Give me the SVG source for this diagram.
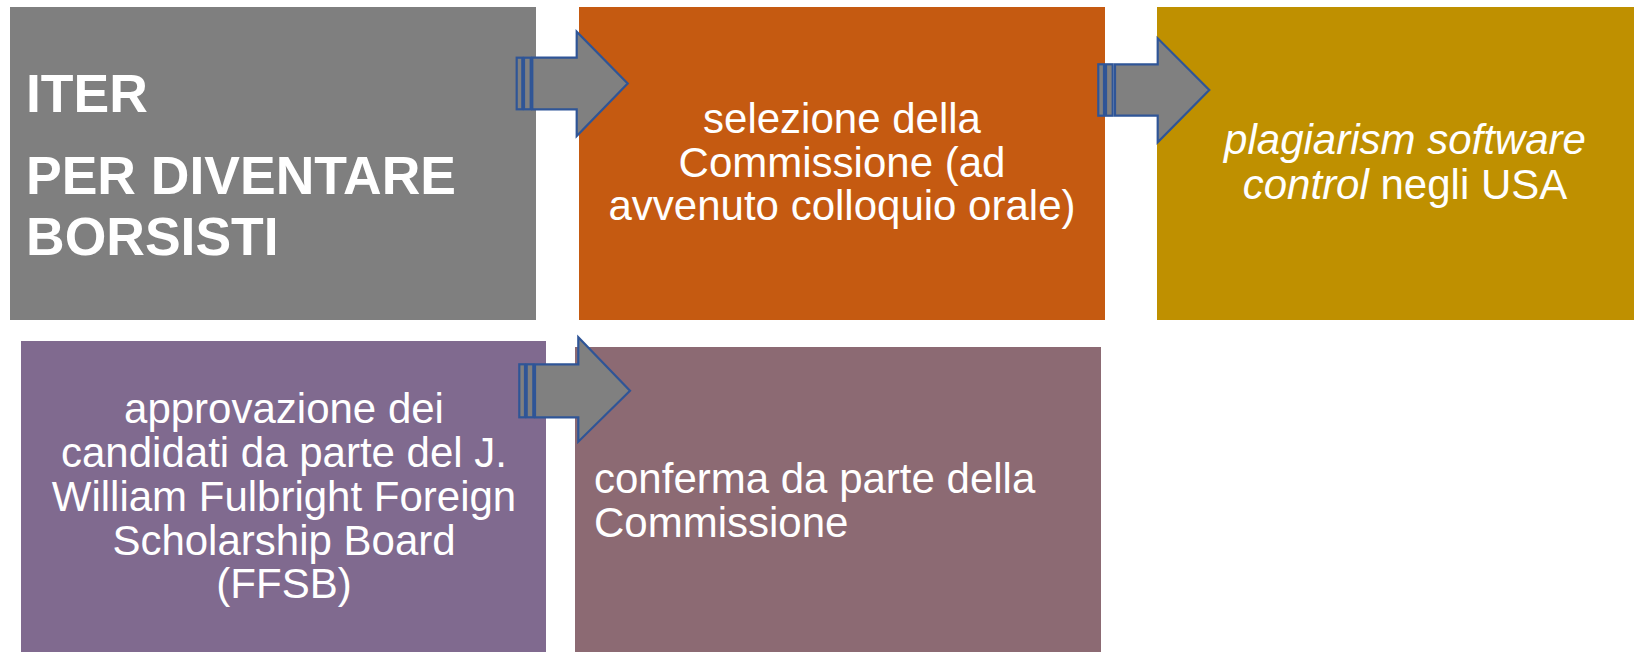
<svg xmlns="http://www.w3.org/2000/svg" width="1634" height="652" viewBox="0 0 1634 652">
<style>
.t{font-family:"Liberation Sans",Arial,sans-serif;fill:#FFFFFF;font-size:42px}
.b{font-weight:bold;font-size:53.5px}
.c{text-anchor:middle}
.arr{fill:#808080;stroke:#2F5597;stroke-width:2.2;stroke-linejoin:miter}
</style>
<rect width="1634" height="652" fill="#FFFFFF"/>
<g id="node-iter">
<rect x="10" y="7" width="526" height="313" fill="#7F7F7F"/>
<text class="t b" x="26" y="112">ITER</text>
<text class="t b" x="26" y="194">PER DIVENTARE</text>
<text class="t b" x="26" y="255">BORSISTI</text>
</g>
<g id="node-selezione">
<rect x="579" y="7" width="526" height="313" fill="#C55A11"/>
<text class="t c" x="842" y="133">selezione della</text>
<text class="t c" x="842" y="177">Commissione (ad</text>
<text class="t c" x="842" y="220">avvenuto colloquio orale)</text>
</g>
<g id="node-plagiarism">
<rect x="1157" y="7" width="477" height="313" fill="#BF9000"/>
<text class="t c" x="1405" y="154" font-style="italic">plagiarism software</text>
<text class="t c" x="1405" y="199"><tspan font-style="italic">control</tspan> negli USA</text>
</g>
<g id="node-approvazione">
<rect x="21" y="341" width="525" height="311" fill="#806A8F"/>
<text class="t c" x="284" y="423">approvazione dei</text>
<text class="t c" x="284" y="467">candidati da parte del J.</text>
<text class="t c" x="284" y="511">William Fulbright Foreign</text>
<text class="t c" x="284" y="555">Scholarship Board</text>
<text class="t c" x="284" y="598">(FFSB)</text>
</g>
<g id="node-conferma">
<rect x="575" y="347" width="526" height="305" fill="#8C6A73"/>
<text class="t" x="594" y="493">conferma da parte della</text>
<text class="t" x="594" y="537">Commissione</text>
</g>
<g id="connectors">
<g id="arrow-1">
<rect class="arr" x="516.7" y="57.7" width="5.6" height="51.6"/>
<rect class="arr" x="524" y="57.7" width="6.7" height="51.6"/>
<polygon class="arr" points="532.3,57.7 576.7,57.7 576.7,31.7 627.7,83.5 576.7,136 576.7,109.3 532.3,109.3"/>
</g>
<g id="arrow-2">
<rect class="arr" x="1098.3" y="64.3" width="5.7" height="51.4"/>
<rect class="arr" x="1106" y="64.3" width="6.7" height="51.4"/>
<polygon class="arr" points="1115,64.3 1157.7,64.3 1157.7,38.3 1209.3,90 1157.7,142.3 1157.7,115.7 1115,115.7"/>
</g>
<g id="arrow-3">
<rect class="arr" x="519.3" y="364.3" width="5.7" height="53"/>
<rect class="arr" x="526.7" y="364.3" width="6.6" height="53"/>
<polygon class="arr" points="535,364.3 578.3,364.3 578.3,337.3 630,390.7 578.3,441.7 578.3,417.3 535,417.3"/>
</g>
</g>
</svg>
